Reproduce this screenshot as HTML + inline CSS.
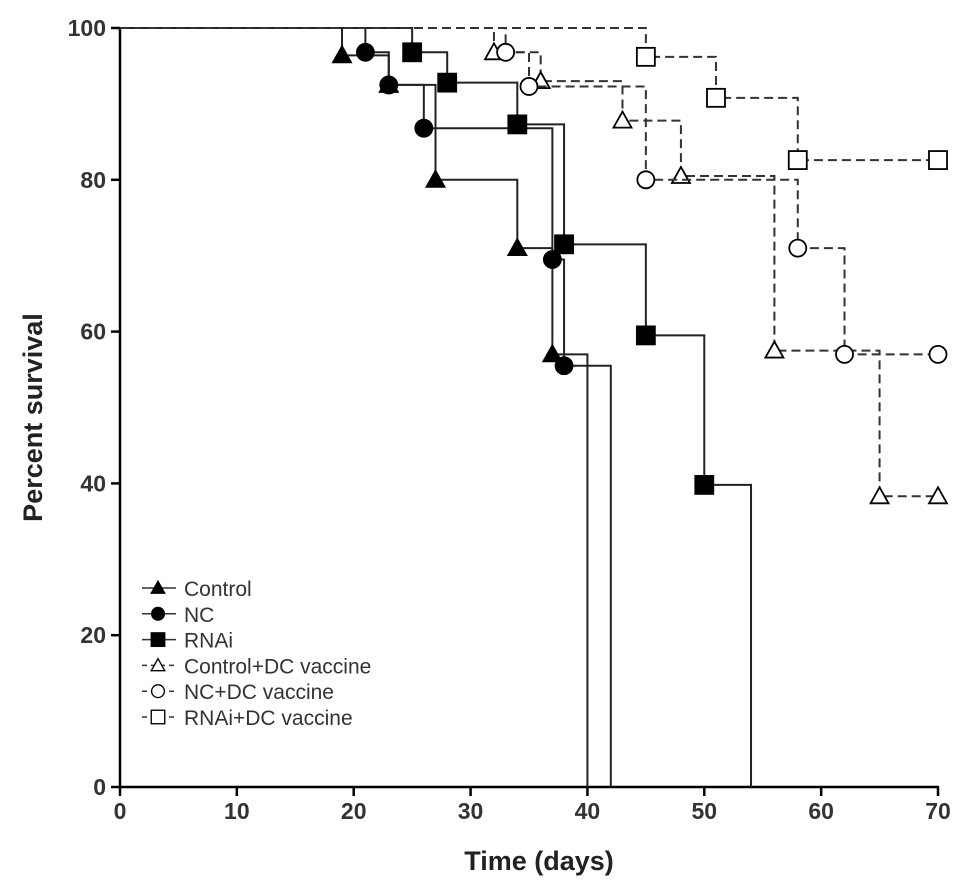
<!DOCTYPE html>
<html><head><meta charset="utf-8"><style>
body{margin:0;background:#fff;}
svg{display:block;font-family:"Liberation Sans",Arial,sans-serif;}
</style></head><body>
<svg id="chart" width="969" height="893" xmlns="http://www.w3.org/2000/svg"></svg>
<script>
const seriesNames = ["Control","NC","RNAi","Control+DC vaccine","NC+DC vaccine","RNAi+DC vaccine"];
const ctrlT = [19,23,27,34,37,40];
const ctrlS = [96.4,92.5,80,71,57,0];
const ncT = [21,23,26,37,38,42];
const ncS = [96.8,92.5,86.8,69.5,55.5,0];
const rnaiT = [25,28,34,38,45,50,54];
const rnaiS = [96.8,92.8,87.3,71.5,59.5,39.8,0];
const ctrlDcT = [32,36,43,48,56,65,70];
const ctrlDcS = [96.8,93,87.8,80.5,57.5,38.3,38.3];
const ncDcT = [33,35,45,58,62,70];
const ncDcS = [96.8,92.3,80,71,57,57];
const rnaiDcT = [45,51,58,70];
const rnaiDcS = [96.2,90.8,82.6,82.6];
const xTicks = [0,10,20,30,40,50,60,70];
const yTicks = [0,20,40,60,80,100];

const svg = document.getElementById('chart');
const NS = "http://www.w3.org/2000/svg";
const X0=120,X1=938,Y0=787,Y1=28;
const xs = v => X0 + (X1-X0)*v/70;
const ys = v => Y0 - (Y0-Y1)*v/100;
function mk(tag, attrs, parent){const e=document.createElementNS(NS,tag);for(const k in attrs)e.setAttribute(k,attrs[k]);(parent||svg).appendChild(e);return e;}

const ax = mk('g',{});


mk('line',{x1:X0,y1:Y0,x2:X1+1,y2:Y0,stroke:'#000','stroke-width':2.5},ax);
mk('line',{x1:X0,y1:Y0,x2:X0,y2:Y1,stroke:'#000','stroke-width':2.5},ax);
xTicks.forEach(t=>{
  mk('line',{x1:xs(t),y1:Y0,x2:xs(t),y2:Y0+9,stroke:'#000','stroke-width':2.5},ax);
  const tx=mk('text',{x:xs(t),y:Y0+32,'text-anchor':'middle','font-size':23,'font-weight':'bold',fill:'#333'},ax);
  tx.textContent=t;
  
  
});
yTicks.forEach(t=>{
  mk('line',{x1:X0-9,y1:ys(t),x2:X0,y2:ys(t),stroke:'#000','stroke-width':2.5},ax);
  const tx=mk('text',{x:X0-14,y:ys(t)+8,'text-anchor':'end','font-size':23,'font-weight':'bold',fill:'#333'},ax);
  tx.textContent=t;
  
  
});
const xt=mk('text',{x:(X0+X1)/2+10,y:870,'text-anchor':'middle','font-size':27,'font-weight':'bold',fill:'#222'});
xt.textContent='Time (days)';


const yt=mk('text',{x:0,y:0,'text-anchor':'middle','font-size':27,'font-weight':'bold',fill:'#222',transform:'translate(42,'+((Y0+Y1)/2+10)+') rotate(-90)'});
yt.textContent='Percent survival';



function marker(g,type,filled,cx,cy){
  const f=filled?'#000':'#fff', sw=1.8;
  if(type==='tri') mk('polygon',{points:`${cx},${cy-9} ${cx-9},${cy+7} ${cx+9},${cy+7}`,fill:f,stroke:'#000','stroke-width':sw},g);
  else if(type==='circ') mk('circle',{cx:cx,cy:cy,r:8.5,fill:f,stroke:'#000','stroke-width':sw},g);
  else mk('rect',{x:cx-9,y:cy-9,width:18,height:18,fill:f,stroke:'#000','stroke-width':sw},g);
}
const defs=[
 [ctrlT,ctrlS,'tri',true,'control'],
 [ncT,ncS,'circ',true,'nc'],
 [rnaiT,rnaiS,'sq',true,'rnai'],
 [ctrlDcT,ctrlDcS,'tri',false,'control-dc'],
 [ncDcT,ncDcS,'circ',false,'nc-dc'],
 [rnaiDcT,rnaiDcS,'sq',false,'rnai-dc']
];
defs.forEach(([T,S,type,filled,name])=>{
  const g=mk('g',{});
  
  
  let d=`M${xs(0)},${ys(100)}`; let prev=100;
  T.forEach((t,i)=>{ d+=` H${xs(t)}`; if(S[i]!==prev){d+=` V${ys(S[i])}`;} prev=S[i]; });
  mk('path',{d:d,fill:'none',stroke:filled?'#222':'#333','stroke-width':2,'stroke-dasharray':filled?'none':'9,5'},g);
  T.forEach((t,i)=>{ if(S[i]>0){ marker(g,type,filled,xs(t),ys(S[i])); } });
});

const lg=mk('g',{});


const ltypes=[['tri',true],['circ',true],['sq',true],['tri',false],['circ',false],['sq',false]];
seriesNames.forEach((n,i)=>{
  const y=588+i*25.8;
  const e=mk('g',{},lg);
  
  
  mk('line',{x1:142,y1:y,x2:176,y2:y,stroke:'#333','stroke-width':1.5,'stroke-dasharray':ltypes[i][1]?'none':'5,4'},e);
  const gg=mk('g',{transform:`translate(158,${y}) scale(0.75)`},e);
  marker(gg,ltypes[i][0],ltypes[i][1],0,0);
  const t=mk('text',{x:184,y:y+8,'font-size':21,fill:'#333'},e);
  t.textContent=n;
});
</script>
</body></html>
